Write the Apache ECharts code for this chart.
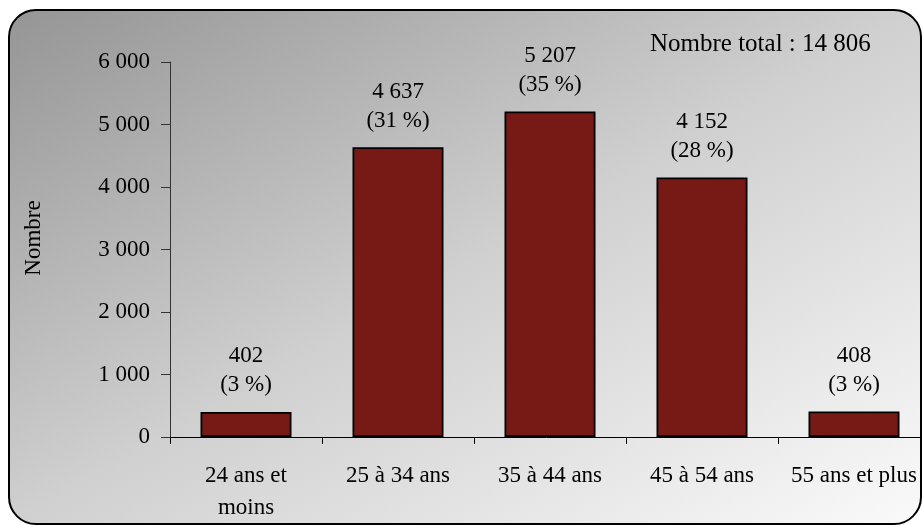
<!DOCTYPE html>
<html>
<head>
<meta charset="utf-8">
<script src="https://cdn.jsdelivr.net/npm/echarts@6/dist/echarts.min.js"></script>
<style>
html,body{margin:0;padding:0;background:#fff;}
#chart{width:922px;height:525px;}
</style>
</head>
<body>
<div id="chart"></div>
<script>
const categories = ['24 ans et\nmoins', '25 à 34 ans', '35 à 44 ans', '45 à 54 ans', '55 ans et plus'];
const values = [402, 4637, 5207, 4152, 408];
const percents = [3, 31, 35, 28, 3];
const totalLabel = 'Nombre total : 14 806';
const yTicks = [0, 1000, 2000, 3000, 4000, 5000, 6000];

const FONT = '"Liberation Serif", "Times New Roman", serif';
function fmt(n){ return String(n).replace(/\B(?=(\d{3})+(?!\d))/g, ' '); }

const chart = echarts.init(document.getElementById('chart'), null, {renderer:'canvas'});
chart.setOption({
  animation:false,
  backgroundColor:'#ffffff',
  graphic:[
    {type:'rect', z:-10, silent:true,
     shape:{x:9, y:10, width:912, height:514, r:27},
     style:{
       fill:new echarts.graphic.LinearGradient(9,10,449,790,[
         {offset:0,color:'#959595'},
         {offset:0.5,color:'#d0d0d0'},
         {offset:1,color:'#fafafa'}
       ], true),
       stroke:'#000', lineWidth:2
     }},
    {type:'text', left:650, top:32, z:10,
     style:{text:totalLabel, font:'25px ' + FONT, fill:'#000'}}
  ],
  grid:{left:170, top:62, width:760, height:375, containLabel:false, outerBoundsMode:'none'},
  xAxis:{
    type:'category', data:categories,
    axisLine:{lineStyle:{color:'#000', width:1}},
    axisTick:{show:true, length:7, inside:false, lineStyle:{color:'#000'}},
    axisLabel:{color:'#000', fontFamily:FONT, fontSize:23, margin:23, lineHeight:32, interval:0}
  },
  yAxis:{
    type:'value', min:0, max:6000, interval:1000,
    name:'Nombre', nameLocation:'middle', nameGap:125,
    nameTextStyle:{color:'#000', fontFamily:FONT, fontSize:23, padding:[0,0,0,23]},
    axisLine:{show:true, lineStyle:{color:'#333', width:1}},
    axisTick:{show:true, length:9, lineStyle:{color:'#333'}},
    splitLine:{show:false},
    axisLabel:{color:'#000', fontFamily:FONT, fontSize:23, margin:20,
      formatter:function(v){ return yTicks.indexOf(v) >= 0 ? fmt(v) : ''; }}
  },
  series:[{
    type:'bar', data:values, barWidth:91,
    itemStyle:{color:'#771A16', borderColor:'#000', borderWidth:1.8},
    label:{show:true, position:'top', distance:12, color:'#000', fontFamily:FONT, fontSize:23, lineHeight:29,
      formatter:function(p){ return fmt(p.value) + '\n(' + percents[p.dataIndex] + ' %)'; }}
  }]
});
</script>
</body>
</html>
